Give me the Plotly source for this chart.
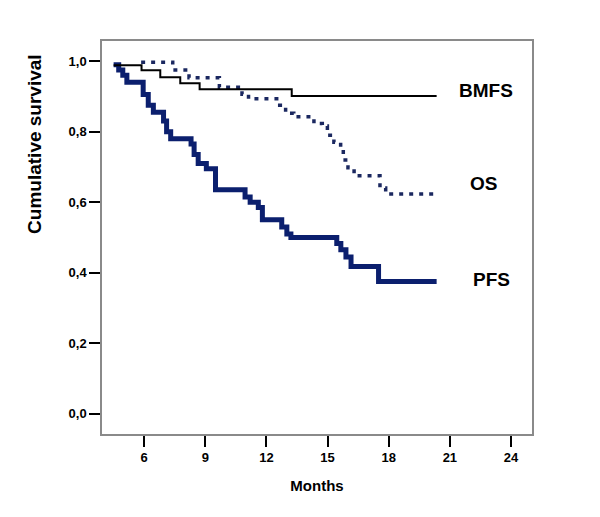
import plotly.graph_objects as go

# Kaplan-Meier step data (time in months, survival after that time)
bmfs_t = [4.5, 5.87, 6.79, 7.77, 8.72, 13.24, 20.35]
bmfs_s = [0.988, 0.974, 0.954, 0.937, 0.920, 0.901, 0.901]

os_t = [5.85, 7.4, 8.2, 9.69, 10.8, 11.12, 12.65, 12.94, 13.34, 14.33, 14.74,
        14.99, 15.31, 15.64, 15.77, 16.0, 16.3, 17.57, 17.85, 20.36]
os_s = [0.997, 0.975, 0.953, 0.926, 0.906, 0.893, 0.875, 0.852, 0.842, 0.823, 0.816,
        0.790, 0.770, 0.750, 0.720, 0.698, 0.675, 0.640, 0.623, 0.623]

pfs_t = [4.5, 4.75, 4.95, 5.15, 5.95, 6.2, 6.45, 6.95, 7.1, 7.3, 8.3, 8.45, 8.65,
         9.05, 9.5, 10.95, 11.2, 11.6, 11.8, 12.75, 13.0, 13.2, 15.45, 15.65,
         15.9, 16.15, 17.5, 20.35]
pfs_s = [0.99, 0.975, 0.96, 0.94, 0.905, 0.875, 0.855, 0.83, 0.80, 0.78, 0.765,
         0.735, 0.71, 0.695, 0.635, 0.615, 0.60, 0.585, 0.55, 0.53, 0.51, 0.50,
         0.483, 0.465, 0.445, 0.418, 0.375, 0.375]

x_ticks = [6, 9, 12, 15, 18, 21, 24]
y_ticks = [0.0, 0.2, 0.4, 0.6, 0.8, 1.0]
y_tick_text = ["0,0", "0,2", "0,4", "0,6", "0,8", "1,0"]

labels = ["BMFS", "OS", "PFS"]
label_x = [22.77, 22.63, 23.02]
label_y = [0.916, 0.654, 0.38]

fig = go.Figure()
fig.add_trace(go.Scatter(x=pfs_t, y=pfs_s, mode="lines", line_shape="hv",
                         line=dict(color="#0b1f6e", width=5), name="PFS"))
fig.add_trace(go.Scatter(x=os_t, y=os_s, mode="lines", line_shape="hv",
                         line=dict(color="#1b2860", width=3.5, dash="4px,6px"), name="OS"))
fig.add_trace(go.Scatter(x=bmfs_t, y=bmfs_s, mode="lines", line_shape="hv",
                         line=dict(color="black", width=2), name="BMFS"))

for t, x, y in zip(labels, label_x, label_y):
    fig.add_annotation(x=x, y=y, xref="x", yref="y", text="<b>%s</b>" % t,
                       showarrow=False, font=dict(family="Arial, Liberation Sans", size=19, color="black"))

# y-axis title (placed in upper part of the axis, as in the original)
fig.add_annotation(x=-0.156, y=0.738, xref="paper", yref="paper",
                   text="<b>Cumulative survival</b>", textangle=-90, showarrow=False,
                   xanchor="center", yanchor="middle",
                   font=dict(family="Arial, Liberation Sans", size=19, color="black"))

fig.update_layout(
    width=592, height=509,
    margin=dict(l=94, r=68, t=33, b=83),
    paper_bgcolor="white", plot_bgcolor="white",
    showlegend=False,
    font=dict(family="Arial, Liberation Sans", color="black"),
)
fig.update_xaxes(
    range=[3.93, 25.03], tickvals=x_ticks, ticktext=["<b>%d</b>" % v for v in x_ticks],
    ticks="outside", ticklen=11, tickwidth=2, tickcolor="black",
    showline=True, linecolor="#8a8a8a", linewidth=1.5, mirror=True,
    showgrid=False, zeroline=False, tickfont=dict(size=13),
    title=dict(text="<b>Months</b>", font=dict(size=15), standoff=16),
)
fig.update_yaxes(
    range=[-0.057, 1.057], tickvals=y_ticks, ticktext=["<b>%s</b>" % s for s in y_tick_text],
    ticks="outside", ticklen=11, tickwidth=2, tickcolor="black",
    showline=True, linecolor="#8a8a8a", linewidth=1.5, mirror=True,
    showgrid=False, zeroline=False, tickfont=dict(size=13),
)

fig.write_html("out.html")
